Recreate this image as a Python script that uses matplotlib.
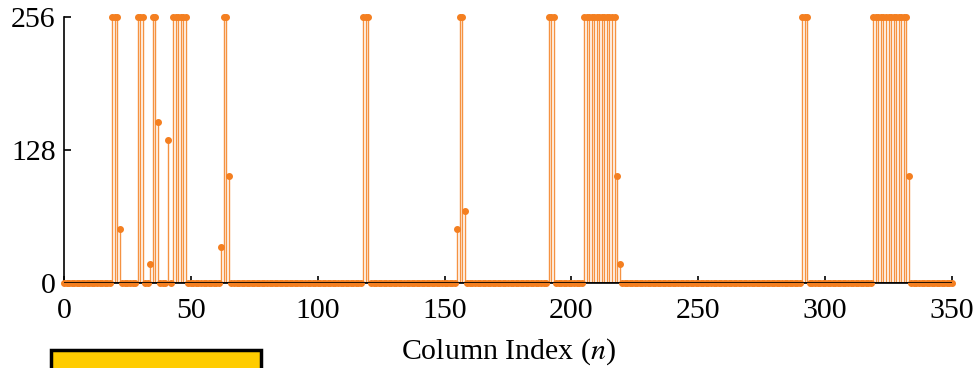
import numpy as np
import matplotlib.pyplot as plt
from matplotlib.patches import Rectangle

# Column indices 0..350, value per column (0-256)
n_cols = 351

# columns that reach the full 256
full_cols = [19, 20, 21, 29, 30, 31, 35, 36, 43, 44, 45, 46, 47, 48, 63, 64,
             118, 119, 120, 156, 157, 191, 192, 193,
             205, 206, 207, 208, 209, 210, 211, 212, 213, 214, 215, 216, 217,
             291, 292, 293,
             319, 320, 321, 322, 323, 324, 325, 326, 327, 328, 329, 330, 331, 332]

# columns with an in-between value
part_cols = [22, 34, 37, 41, 62, 65, 155, 158, 218, 219, 333]
part_vals = [52, 18, 155, 138, 35, 103, 52, 69, 103, 18, 103]

x_ticks = [0, 50, 100, 150, 200, 250, 300, 350]
y_ticks = [0, 128, 256]

cols = np.arange(n_cols)
vals = np.zeros(n_cols)
vals[full_cols] = 256
vals[part_cols] = part_vals

plt.rcParams['font.family'] = ['Liberation Serif', 'DejaVu Serif']
plt.rcParams['mathtext.fontset'] = 'stix'

orange = '#F47F20'

fig = plt.figure(figsize=(9.77, 3.68), dpi=100)
ax = fig.add_axes([64 / 977, 1 - 283 / 368, (952 - 64) / 977, (283 - 17) / 368])

markers, stems, base = ax.stem(cols, vals, linefmt='-', markerfmt='o', basefmt='k-')
stems.set_color(orange)
stems.set_linewidth(1.0)
stems.set_alpha(0.85)
markers.set_color(orange)
markers.set_markersize(4)
markers.set_clip_on(False)
markers.set_zorder(3)
base.set_linewidth(1.2)
base.set_zorder(4)

ax.set_xlim(0, 350)
ax.set_ylim(0, 256)
ax.set_xticks(x_ticks)
ax.set_yticks(y_ticks)
ax.spines['top'].set_visible(False)
ax.spines['right'].set_visible(False)
ax.spines['left'].set_linewidth(1.2)
ax.spines['bottom'].set_linewidth(1.2)
ax.tick_params(direction='in', length=5, width=1.2, labelsize=21.5)
ax.tick_params(axis='x', pad=11)
ax.tick_params(axis='y', pad=6)
ax.set_xlabel('Column Index ($n$)', fontsize=21.5, labelpad=8.5)

# cut-off yellow box at the bottom
fig.patches.append(Rectangle((51 / 977, -0.05), (261 - 51) / 977, 0.05 + 18 / 368,
                             transform=fig.transFigure, facecolor='#FFCC00',
                             edgecolor='black', linewidth=2.5))

fig.savefig('out.png', dpi=100)
